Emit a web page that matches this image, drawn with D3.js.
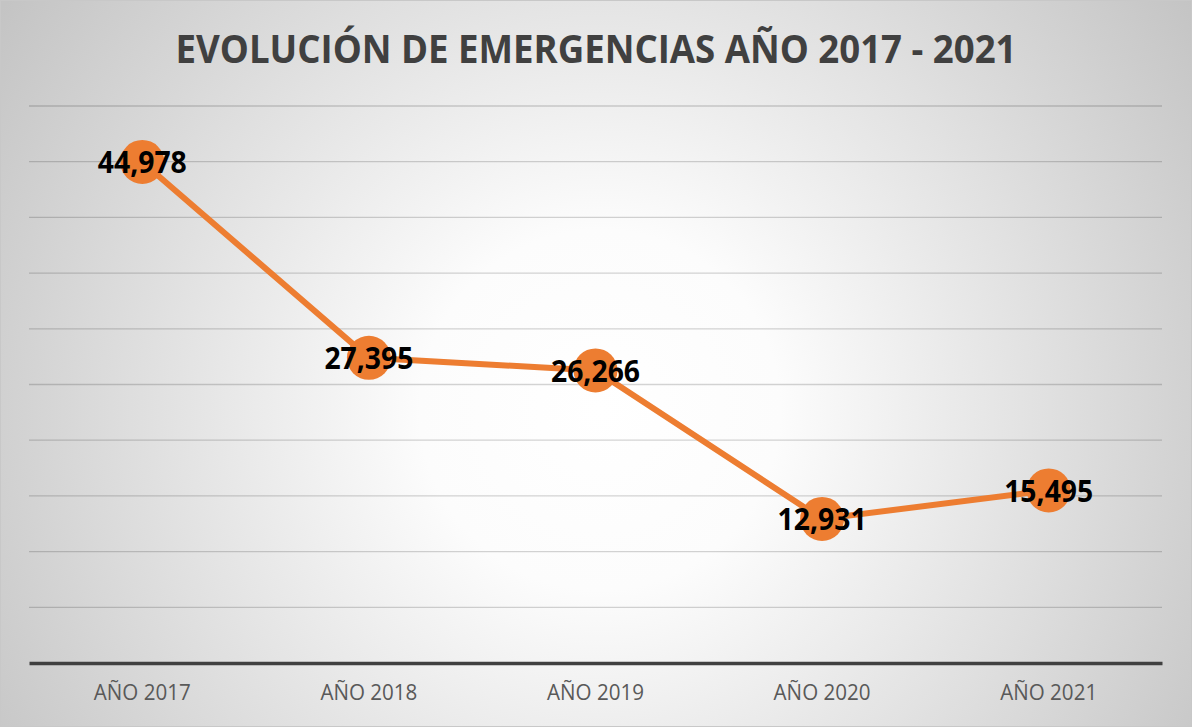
<!DOCTYPE html>
<html>
<head>
<meta charset="utf-8">
<script src="https://cdn.jsdelivr.net/npm/d3@7"></script>
<style>
  html, body { margin: 0; padding: 0; background: #fff; }
  svg { display: block; }
</style>
</head>
<body>
<svg id="main-chart-svg" width="1192" height="727"></svg>
<script>
// chart data
const years = ["AÑO 2017", "AÑO 2018", "AÑO 2019", "AÑO 2020", "AÑO 2021"];
const emergencies = [44978, 27395, 26266, 12931, 15495];
const yTicks = [0, 5000, 10000, 15000, 20000, 25000, 30000, 35000, 40000, 45000, 50000];
const chartTitle = "EVOLUCIÓN DE EMERGENCIAS AÑO 2017 - 2021";

const svg = d3.select("#main-chart-svg");
const width = +svg.attr("width");
const height = +svg.attr("height");
const font = "'Open Sans', 'Liberation Sans', sans-serif";

// background gradient
let defs = svg.append("defs");
let grad = defs.append("radialGradient")
    .attr("id", "bg")
    .attr("gradientUnits", "userSpaceOnUse")
    .attr("cx", 600).attr("cy", 410).attr("r", 720);
grad.append("stop").attr("offset", "0%").attr("stop-color", "#ffffff");
grad.append("stop").attr("offset", "25%").attr("stop-color", "#fcfcfc");
grad.append("stop").attr("offset", "100%").attr("stop-color", "#c4c4c4");

svg.append("rect")
    .attr("x", 0.5).attr("y", 0.5)
    .attr("width", width - 1).attr("height", height - 1)
    .attr("fill", "url(#bg)")
    .attr("stroke", "#c8c8c8");

// scales
let xScale = d3.scaleBand()
    .domain(years)
    .range([29, 1162]);

let yScale = d3.scaleLinear()
    .domain([0, 50000])
    .range([663, 106]);

// gridlines
svg.append("g")
    .selectAll("line")
    .data(yTicks.filter(d => d > 0))
    .join("line")
    .attr("x1", 29).attr("x2", 1162)
    .attr("y1", d => yScale(d)).attr("y2", d => yScale(d))
    .attr("stroke", "#000")
    .attr("stroke-opacity", 0.17)
    .attr("stroke-width", 1.3);

// x axis
let xAxis = d3.axisBottom(xScale).tickSize(0).tickPadding(22);
let xg = svg.append("g")
    .attr("transform", `translate(0,${yScale(0)})`)
    .call(xAxis);
xg.select(".domain").attr("stroke", "#404040").attr("stroke-width", 3.5);
xg.selectAll("text")
    .attr("font-family", font)
    .attr("font-size", 21)
    .attr("fill", "#595959")
    .attr("textLength", 97)
    .attr("lengthAdjust", "spacingAndGlyphs");

// title
svg.append("text")
    .attr("x", 596).attr("y", 63)
    .attr("text-anchor", "middle")
    .attr("font-family", font)
    .attr("font-weight", "bold")
    .attr("font-size", 40)
    .attr("fill", "#404040")
    .attr("textLength", 841)
    .attr("lengthAdjust", "spacingAndGlyphs")
    .text(chartTitle);

// line and markers
let cx = (d, i) => xScale(years[i]) + xScale.bandwidth() / 2;
let line = d3.line()
    .x((d, i) => cx(d, i))
    .y(d => yScale(d));

svg.append("path")
    .datum(emergencies)
    .attr("d", line)
    .attr("fill", "none")
    .attr("stroke", "#ED7D31")
    .attr("stroke-width", 6)
    .attr("stroke-linecap", "round");

svg.append("g")
    .selectAll("circle")
    .data(emergencies)
    .join("circle")
    .attr("cx", cx)
    .attr("cy", d => yScale(d))
    .attr("r", 22)
    .attr("fill", "#ED7D31");

// data labels
svg.append("g")
    .selectAll("text")
    .data(emergencies)
    .join("text")
    .attr("x", cx)
    .attr("y", d => yScale(d))
    .attr("dy", "0.36em")
    .attr("text-anchor", "middle")
    .attr("font-family", font)
    .attr("font-weight", "bold")
    .attr("font-size", 31)
    .attr("fill", "#000")
    .attr("textLength", 89)
    .attr("lengthAdjust", "spacingAndGlyphs")
    .text(d => d3.format(",")(d));
</script>
</body>
</html>
